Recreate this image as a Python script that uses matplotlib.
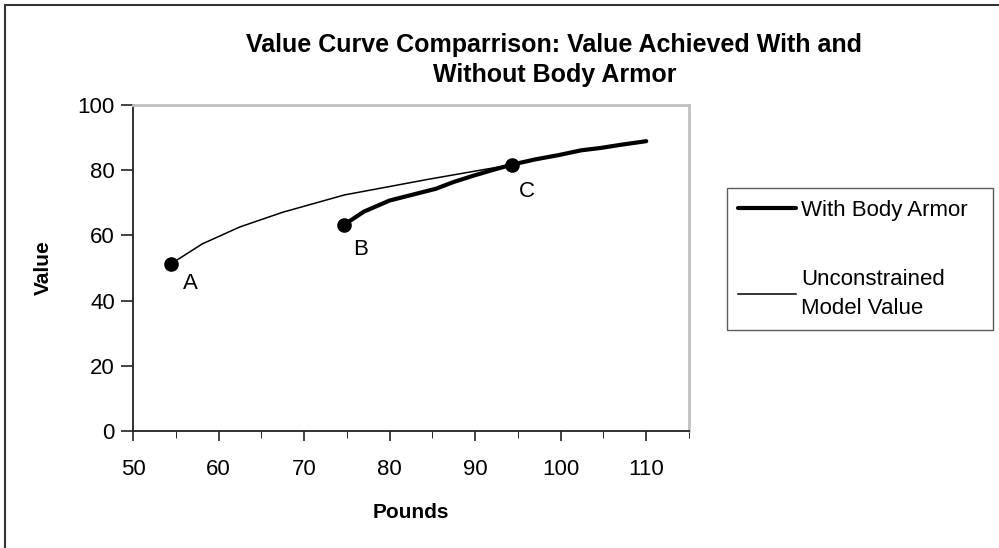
import matplotlib
matplotlib.use('Agg')
import matplotlib.pyplot as plt
from matplotlib.patches import Rectangle

plt.rcParams['font.family'] = ['Liberation Sans', 'DejaVu Sans']

# data
armor_x = [74.7, 77.0, 80.0, 85.4, 87.5, 89.9, 92.5, 94.3, 97.0, 99.7, 102.4, 104.6, 107.3, 110.0]
armor_y = [63.3, 67.3, 70.7, 74.3, 76.4, 78.4, 80.4, 81.7, 83.3, 84.6, 86.1, 86.8, 87.9, 88.9]

unc_x = [54.4, 58.1, 62.5, 67.5, 74.7, 84.5, 94.3, 97.0, 99.7, 102.4, 104.6, 107.3, 110.0]
unc_y = [51.2, 57.4, 62.6, 67.1, 72.4, 77.2, 81.7, 83.3, 84.6, 86.1, 86.8, 87.9, 88.9]

pt_labels = ['A', 'B', 'C']
pt_x = [54.4, 74.7, 94.3]
pt_y = [51.2, 63.3, 81.7]
pt_offsets = [(14, -14), (12, -18), (11, -19)]

title = 'Value Curve Comparrison: Value Achieved With and\nWithout Body Armor'

fig = plt.figure(figsize=(9.99, 5.48), dpi=100)
ax = fig.add_axes([133/999, 1 - 431/548, (689-133)/999, (431-105)/548])

# outer chart border (cut by the image at right/bottom)
fig.patches.append(Rectangle((5/999, -0.2), 1.2, 1.2 - 5/548, transform=fig.transFigure,
                             fill=False, edgecolor='#333333', linewidth=1.5))

l1, = ax.plot(armor_x, armor_y, color='black', linewidth=3.0, solid_capstyle='round', zorder=3,
              label='With Body Armor')
l2, = ax.plot(unc_x, unc_y, color='black', linewidth=1.1, zorder=2,
              label='Unconstrained\nModel Value')
ax.plot(pt_x, pt_y, 'o', color='black', markersize=9.5, zorder=4)
for lab, x, y, off in zip(pt_labels, pt_x, pt_y, pt_offsets):
    ax.annotate(lab, (x, y), xytext=off, textcoords='offset points',
                ha='center', va='center', fontsize=16)

ax.set_xlim(50, 115)
ax.set_ylim(0, 100)
ax.set_xticks([50, 60, 70, 80, 90, 100, 110])
ax.set_xticks([55, 65, 75, 85, 95, 105, 115], minor=True)
ax.set_yticks([0, 20, 40, 60, 80, 100])
ax.tick_params(axis='both', labelsize=16, direction='out', color='#222222', width=1.2)
ax.tick_params(axis='x', which='major', length=7, pad=13)
ax.tick_params(axis='x', which='minor', length=5)
ax.tick_params(axis='y', length=9, pad=4)

for s in ['left', 'bottom']:
    ax.spines[s].set_color('#222222')
    ax.spines[s].set_linewidth(1.3)
for s in ['top', 'right']:
    ax.spines[s].set_color('#c0c0c0')
    ax.spines[s].set_linewidth(2)

ax.set_xlabel('Pounds', fontsize=15, fontweight='bold', labelpad=17)
ax.set_ylabel('Value', fontsize=15, fontweight='bold', labelpad=18)

fig.text(0.555, 1 - 60/548, title, ha='center', va='center', fontsize=18,
         fontweight='bold', linespacing=1.28)

leg = fig.legend(handles=[l1, l2], loc='upper left',
                 bbox_to_anchor=(727/999, 1 - 189/548, (993-727)/999, 0.001),
                 mode='expand', fontsize=16, frameon=True, fancybox=False,
                 edgecolor='#333333', handlelength=2.6, handletextpad=0.25,
                 labelspacing=2.2, borderpad=0.5, borderaxespad=0)
leg.get_frame().set_linewidth(1.0)
for t in leg.get_texts():
    t.set_linespacing(1.45)

fig.savefig('out.png', dpi=100)
